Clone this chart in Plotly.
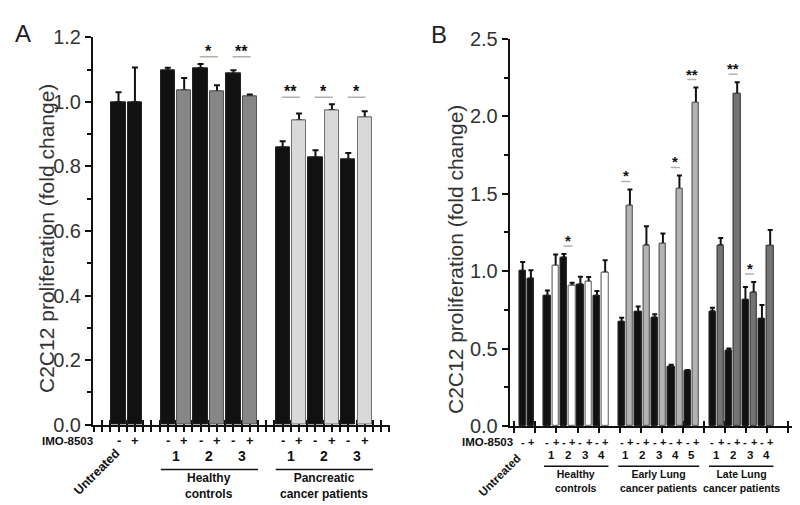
import plotly.graph_objects as go

FONT = "Liberation Sans, Arial, sans-serif"

# ---------------- Panel A data ----------------
A_untreated = [1.000, 1.000]            # [-, +]
A_untreated_err = [0.030, 0.107]
A_healthy_ids = ["1", "2", "3"]
A_healthy_minus = [1.097, 1.105, 1.087]
A_healthy_minus_err = [0.009, 0.013, 0.011]
A_healthy_plus = [1.036, 1.032, 1.018]
A_healthy_plus_err = [0.038, 0.020, 0.005]
A_healthy_sig = ["", "*", "**"]
A_panc_ids = ["1", "2", "3"]
A_panc_minus = [0.858, 0.828, 0.821]
A_panc_minus_err = [0.020, 0.022, 0.021]
A_panc_plus = [0.943, 0.975, 0.951]
A_panc_plus_err = [0.021, 0.018, 0.020]
A_panc_sig = ["**", "*", "*"]

# ---------------- Panel B data ----------------
B_untreated = [1.000, 0.953]
B_untreated_err = [0.060, 0.053]
B_healthy_ids = ["1", "2", "3", "4"]
B_healthy_minus = [0.840, 1.089, 0.914, 0.840]
B_healthy_minus_err = [0.035, 0.022, 0.050, 0.032]
B_healthy_plus = [1.036, 0.907, 0.932, 0.992]
B_healthy_plus_err = [0.072, 0.019, 0.030, 0.078]
B_healthy_sig = ["", "*", "", ""]
B_early_ids = ["1", "2", "3", "4", "5"]
B_early_minus = [0.671, 0.737, 0.700, 0.385, 0.358]
B_early_minus_err = [0.029, 0.035, 0.022, 0.012, 0.005]
B_early_plus = [1.422, 1.167, 1.177, 1.531, 2.086]
B_early_plus_err = [0.105, 0.123, 0.066, 0.087, 0.099]
B_early_sig = ["*", "", "", "*", "**"]
B_late_ids = ["1", "2", "3", "4"]
B_late_minus = [0.741, 0.488, 0.813, 0.690]
B_late_minus_err = [0.023, 0.014, 0.085, 0.092]
B_late_plus = [1.167, 2.144, 0.862, 1.161]
B_late_plus_err = [0.047, 0.076, 0.068, 0.105]
B_late_sig = ["", "**", "*", ""]

A_groups = [
    dict(name="Untreated", ids=None, minus=[A_untreated[0]], minus_err=[A_untreated_err[0]],
         plus=[A_untreated[1]], plus_err=[A_untreated_err[1]], sig=[""],
         fill="#111111", line="#222222"),
    dict(name="Healthy<br>controls", ids=A_healthy_ids, minus=A_healthy_minus, minus_err=A_healthy_minus_err,
         plus=A_healthy_plus, plus_err=A_healthy_plus_err, sig=A_healthy_sig,
         fill="#868686", line="#555555"),
    dict(name="Pancreatic<br>cancer patients", ids=A_panc_ids, minus=A_panc_minus, minus_err=A_panc_minus_err,
         plus=A_panc_plus, plus_err=A_panc_plus_err, sig=A_panc_sig,
         fill="#d9d9d9", line="#707070"),
]
B_groups = [
    dict(name="Untreated", ids=None, minus=[B_untreated[0]], minus_err=[B_untreated_err[0]],
         plus=[B_untreated[1]], plus_err=[B_untreated_err[1]], sig=[""],
         fill="#111111", line="#222222"),
    dict(name="Healthy<br>controls", ids=B_healthy_ids, minus=B_healthy_minus, minus_err=B_healthy_minus_err,
         plus=B_healthy_plus, plus_err=B_healthy_plus_err, sig=B_healthy_sig,
         fill="#ffffff", line="#707070"),
    dict(name="Early Lung<br>cancer patients", ids=B_early_ids, minus=B_early_minus, minus_err=B_early_minus_err,
         plus=B_early_plus, plus_err=B_early_plus_err, sig=B_early_sig,
         fill="#b3b3b3", line="#606060"),
    dict(name="Late Lung<br>cancer patients", ids=B_late_ids, minus=B_late_minus, minus_err=B_late_minus_err,
         plus=B_late_plus, plus_err=B_late_plus_err, sig=B_late_sig,
         fill="#747474", line="#404040"),
]

fig = go.Figure()
annotations = []
shapes = []


def ann(**kw):
    kw.setdefault("showarrow", False)
    kw.setdefault("xanchor", "center")
    kw.setdefault("yanchor", "middle")
    annotations.append(kw)


def add_panel(groups, xref, yref, bw, capw, sig_mode, sig_off, star_size,
              y_sign, y_num, y_line, y_grp, sign_size, num_size, grp_size,
              line_l, line_r):
    slot = 1
    for g in groups:
        n = len(g["minus"])
        xm = [slot + 2 * i for i in range(n)]
        xp = [slot + 2 * i + 1 for i in range(n)]
        for xs, vals, errs, fill, lc in ((xm, g["minus"], g["minus_err"], "#111111", "#222222"),
                                         (xp, g["plus"], g["plus_err"], g["fill"], g["line"])):
            # bar with error bar
            fig.add_trace(go.Bar(x=xs, y=vals, width=bw, xaxis=xref, yaxis=yref,
                                 marker=dict(color=fill, line=dict(color=lc, width=1)),
                                 error_y=dict(type="data", array=errs, arrayminus=[0] * n,
                                              symmetric=False, color="#111111",
                                              thickness=2, width=capw),
                                 showlegend=False, hoverinfo="skip"))
            # same bar on top to hide the lower whisker cap
            fig.add_trace(go.Bar(x=xs, y=vals, width=bw, xaxis=xref, yaxis=yref,
                                 marker=dict(color=fill, line=dict(color=lc, width=1)),
                                 showlegend=False, hoverinfo="skip"))
        # significance
        tops = [max(g["minus"][i] + g["minus_err"][i], g["plus"][i] + g["plus_err"][i]) for i in range(n)]
        grp_max = max(tops)
        for i in range(n):
            s = g["sig"][i]
            if not s:
                continue
            ly = (grp_max if sig_mode == "group" else tops[i]) + sig_off
            shapes.append(dict(type="line", xref=xref, yref=yref, x0=xm[i] - 0.05, x1=xp[i] + 0.05,
                               y0=ly, y1=ly, line=dict(color="#b0b0b0", width=1.5)))
            ann(x=(xm[i] + xp[i]) / 2, y=ly, xref=xref, yref=yref, text="<b>%s</b>" % s,
                yanchor="bottom", yshift=-5,
                font=dict(family=FONT, size=star_size, color="#111111"))
        # sign labels
        for i in range(n):
            for xx, t in ((xm[i], "-"), (xp[i], "+")):
                ann(x=xx, y=y_sign, xref=xref, yref="paper", text="<b>%s</b>" % t,
                    font=dict(family=FONT, size=sign_size, color="#111111"))
        if g["ids"] is not None:
            for i in range(n):
                ann(x=(xm[i] + xp[i]) / 2, y=y_num, xref=xref, yref="paper",
                    text="<b>%s</b>" % g["ids"][i],
                    font=dict(family=FONT, size=num_size, color="#111111"))
            shapes.append(dict(type="line", xref=xref, yref="paper", x0=xm[0] - line_l, x1=xp[-1] + line_r,
                               y0=y_line, y1=y_line, line=dict(color="#111111", width=1.5)))
            ann(x=(xm[0] + xp[-1]) / 2, y=y_grp, xref=xref, yref="paper",
                text="<b>%s</b>" % g["name"],
                font=dict(family=FONT, size=grp_size, color="#111111"))
        slot += 2 * n + 1


add_panel(A_groups, "x", "y", 0.87, 3, "group", 0.022, 16,
          1 - 441 / 505, 1 - 457 / 505, 1 - 471 / 505, 1 - 488 / 505, 13, 14, 12, 0.42, 0.5)
add_panel(B_groups, "x2", "y2", 0.78, 2.5, "pair", 0.052, 15,
          1 - 442 / 505, 1 - 455.5 / 505, 1 - 467.5 / 505, 1 - 483 / 505, 11, 11.5, 10.5, 0.42, 0.4)

# empty traces so that the overlay axes (outer ticks) are drawn
fig.add_trace(go.Scatter(x=[], y=[], xaxis="x3", yaxis="y", showlegend=False, hoverinfo="skip"))
fig.add_trace(go.Scatter(x=[], y=[], xaxis="x4", yaxis="y2", showlegend=False, hoverinfo="skip"))

# IMO-8503 labels and Untreated
for xp_, yp_, sz in ((87, 441, 11.5), (507, 442.5, 11.5)):
    ann(x=xp_ / 800, y=1 - yp_ / 505, xref="paper", yref="paper", xanchor="right",
        text="<b>IMO-8503</b>", font=dict(family=FONT, size=sz, color="#111111"))
for (cx, cy, sz) in ((89, 474, 12.5), (492, 477, 11.5)):
    ann(x=cx / 800, y=1 - cy / 505, xref="paper", yref="paper", textangle=-45,
        text="<b>Untreated</b>", font=dict(family=FONT, size=sz, color="#111111"))
# y titles
for (cx, cy, sz) in ((39, 230, 21), (447, 252, 21)):
    ann(x=cx / 800, y=1 - cy / 505, xref="paper", yref="paper", textangle=-90,
        text="C2C12 proliferation (fold change)",
        font=dict(family=FONT, size=sz, color="#333333"))
# panel letters
for (cx, cy, t) in ((15, 15, "A"), (431, 16, "B")):
    ann(x=cx / 800, y=1 - cy / 505, xref="paper", yref="paper",
        text=t, font=dict(family=FONT, size=24, color="#222222"))

# tall closing tick at the right end of panel B's x axis
shapes.append(dict(type="line", xref="x2 domain", yref="paper", x0=1, x1=1,
                   y0=1 - 432 / 505, y1=1 - 419 / 505, line=dict(color="#111111", width=2)))

A_dom = [85 / 800, 382 / 800]
B_dom = [501.7 / 800, 797 / 800]
A_rng = [-0.555, 17.54]
B_rng = [-0.57, 35.22]

inner = dict(showline=True, linecolor="#111111", linewidth=2, showgrid=False, zeroline=False,
             ticks="inside", ticklen=5, tickwidth=1.5, tickcolor="#111111", showticklabels=False,
             layer="below traces")
outer = dict(showline=True, linecolor="#111111", linewidth=2, showgrid=False, zeroline=False,
             ticks="outside", ticklen=5, tickwidth=1.5, tickcolor="#111111", showticklabels=False)
ay_common = dict(showline=True, linecolor="#111111", linewidth=2, showgrid=False, zeroline=False,
                 ticks="outside", ticklen=6, tickwidth=1.5, tickcolor="#111111",
                 tickfont=dict(family=FONT, size=20, color="#333333"))

fig.update_layout(
    width=800, height=505, margin=dict(l=0, r=0, t=0, b=0),
    paper_bgcolor="white", plot_bgcolor="white", barmode="overlay", bargap=0,
    xaxis=dict(domain=A_dom, range=A_rng, tick0=0, dtick=0.5, anchor="y", **inner),
    xaxis3=dict(domain=A_dom, range=A_rng, tick0=0, dtick=0.5, anchor="y", overlaying="x", **outer),
    yaxis=dict(domain=[1 - 424 / 505, 1 - 19.3 / 505], range=[0, 1.2], anchor="x",
               tickvals=[0, 0.2, 0.4, 0.6, 0.8, 1.0, 1.2],
               ticktext=["0.0", "0.2", "0.4", "0.6", "0.8", "1.0", "1.2"],
               minor=dict(dtick=0.1, ticks="outside", ticklen=4, tickwidth=1.5, tickcolor="#111111"),
               **ay_common),
    xaxis2=dict(domain=B_dom, range=B_rng, tick0=0, dtick=2.55, anchor="y2", **inner),
    xaxis4=dict(domain=B_dom, range=B_rng, tick0=0, dtick=2.55, anchor="y2", overlaying="x2", **outer),
    yaxis2=dict(domain=[1 - 425.7 / 505, 1 - 20.7 / 505], range=[0, 2.5], anchor="x2",
                tickvals=[0, 0.5, 1.0, 1.5, 2.0, 2.5],
                ticktext=["0.0", "0.5", "1.0", "1.5", "2.0", "2.5"],
                minor=dict(dtick=0.25, ticks="outside", ticklen=4, tickwidth=1.5, tickcolor="#111111"),
                **ay_common),
    annotations=annotations, shapes=shapes,
)

fig.write_html("out.html")
